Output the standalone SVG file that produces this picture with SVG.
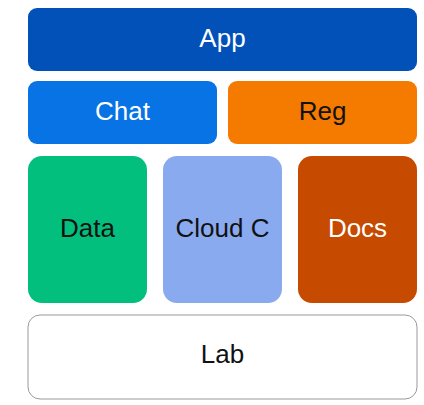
<svg xmlns="http://www.w3.org/2000/svg" width="424" height="405" viewBox="0 0 424 405">
  <style>
    .lbl { font-family: "Liberation Sans", Arial, sans-serif; font-size: 26px; text-anchor: middle; }
    .light { fill: #ffffff; }
    .dark { fill: #111111; }
  </style>
  <rect width="424" height="405" fill="#ffffff"/>
  <g id="app">
    <rect x="28" y="8" width="389" height="63" rx="9" fill="#0251b9"/>
    <text class="lbl light" x="222.5" y="47">App</text>
  </g>
  <g id="chat">
    <rect x="28" y="81" width="189" height="63" rx="9" fill="#0873e4"/>
    <text class="lbl light" x="122.5" y="120">Chat</text>
  </g>
  <g id="reg">
    <rect x="228" y="81" width="189" height="63" rx="9" fill="#f47a00"/>
    <text class="lbl dark" x="322.5" y="120">Reg</text>
  </g>
  <g id="data">
    <rect x="28" y="156" width="119" height="147" rx="14" fill="#02bf7e"/>
    <text class="lbl dark" x="87.5" y="237">Data</text>
  </g>
  <g id="cloud-c">
    <rect x="163" y="156" width="119" height="147" rx="14" fill="#89aaee"/>
    <text class="lbl dark" x="222.5" y="237">Cloud C</text>
  </g>
  <g id="docs">
    <rect x="298" y="156" width="119" height="147" rx="14" fill="#c64a00"/>
    <text class="lbl light" x="357.5" y="237">Docs</text>
  </g>
  <g id="lab">
    <rect x="28" y="315" width="389" height="84" rx="12" fill="#ffffff" stroke="#999999" stroke-width="1"/>
    <text class="lbl dark" x="222.5" y="363">Lab</text>
  </g>
  <g id="connectors"/>
</svg>
